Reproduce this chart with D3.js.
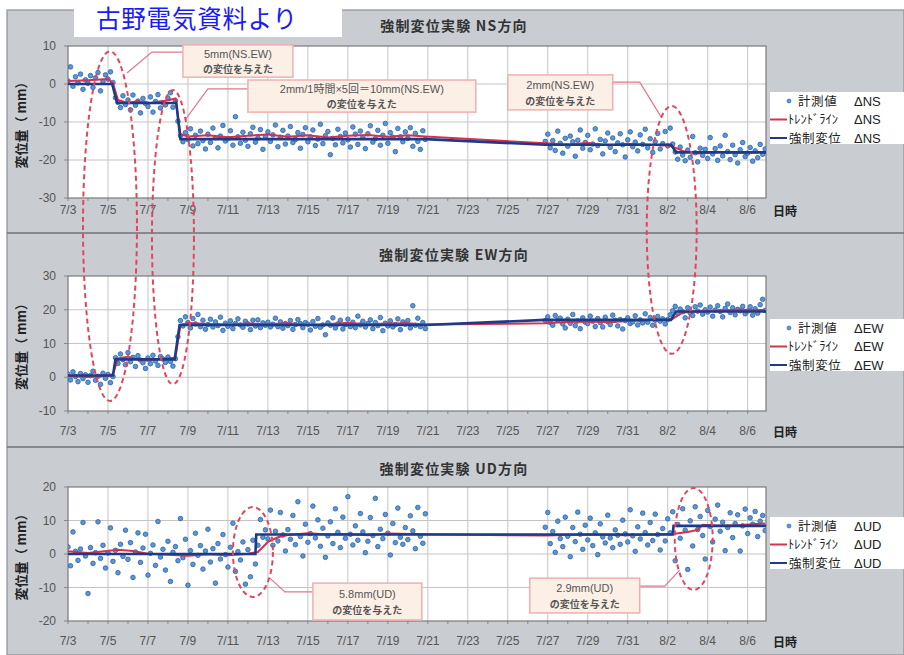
<!DOCTYPE html>
<html><head><meta charset="utf-8">
<script src="https://cdn.jsdelivr.net/npm/d3@7"></script>
<style>
body{margin:0;background:#fff;}
svg{display:block;}
</style></head><body>
<svg id="c" width="904" height="655"></svg>
<script>
// ---------------- DATA ----------------
const xTickLabels = ["7/3","7/5","7/7","7/9","7/11","7/13","7/15","7/17","7/19","7/21","7/23","7/25","7/27","7/29","7/31","8/2","8/4","8/6"];
const nsYTicks = [-30,-20,-10,0,10];
const ewYTicks = [-10,0,10,20,30];
const udYTicks = [-20,-10,0,10,20];

const measStartA = "7/3 0";   // first block of measurements
const measStartB = "7/26 21"; // second block after data gap
const measStepHours = 3;

// NS measured values
const nsMeasA = [
 0.8, 4.5, -0.6, 1.9, 0.3, 2.6, -1.4, 1.1,
 0.2, 2.2, -0.9, 1.6, 3.0, -1.8, 0.7, 2.4,
 1.3, 3.2, 0.4, -3.6, -4.8, -6.2, -3.1, -5.4,
 -4.2, -6.8, -2.9, -5.6, -4.5, -7.6, -3.8, -5.1,
 -5.9, -3.4, -7.4, -4.6, -2.8, -6.3, -4.9, -5.5,
 -3.7, -2.3, -6.1, -4.4, -9.8, -13.6, -15.2, -12.8,
 -14.6, -11.8, -16.3, -13.5, -15.7, -12.4, -14.9, -17.1,
 -13.2, -15.4, -11.6, -14.1, -16.8, -13.7, -10.9, -15.0,
 -14.4, -12.3, -16.1, -8.6, -13.9, -15.6, -12.7, -14.8,
 -16.4, -13.1, -11.4, -15.3, -14.2, -12.0, -17.2, -13.8,
 -12.6, -15.1, -13.4, -10.8, -16.5, -14.0, -12.2, -15.8,
 -13.7, -11.2, -15.4, -14.6, -12.8, -16.9, -13.3, -11.5,
 -15.2, -13.9, -12.1, -16.2, -14.5, -10.6, -15.7, -13.6,
 -12.5, -18.6, -14.3, -16.0, -11.9, -13.8, -15.5, -12.9,
 -14.7, -16.6, -11.3, -13.2, -15.9, -12.4, -14.1, -17.0,
 -13.1, -11.0, -15.3, -14.4, -12.2, -16.1, -13.5, -10.4,
 -15.6, -12.8, -14.0, -17.8, -11.7, -13.9, -15.2, -12.6,
 -14.3, -11.5, -16.4, -13.0, -15.1, -17.2, -12.3, -14.6
];
const nsMeasB = [
 -15.1,
 -13.2, -16.8, -14.9, -17.5, -12.4, -15.6, -18.2, -14.3,
 -16.4, -13.7, -15.2, -19.0, -14.8, -12.1, -16.9, -15.4,
 -13.5, -17.3, -15.8, -11.8, -16.2, -14.6, -18.4, -15.0,
 -12.9, -16.7, -14.2, -17.8, -15.5, -13.1, -16.0, -19.2,
 -14.7, -12.6, -16.5, -15.3, -17.6, -13.4, -15.9, -11.9,
 -16.8, -14.4, -18.0, -15.2, -13.0, -17.1, -15.7, -12.5,
 -16.3, -11.6, -15.8, -17.9, -19.8, -16.6, -18.7, -20.2,
 -17.4, -19.3, -13.8, -18.1, -20.5, -16.9, -18.8, -17.2,
 -19.6, -14.1, -18.4, -17.0, -20.1, -16.3, -18.9, -13.5,
 -17.8, -19.9, -16.1, -18.6, -20.8, -17.3, -15.4, -19.1,
 -18.2, -16.7, -20.3, -17.6, -19.4, -15.9, -18.5, -17.1
];
const nsTrendTimes = ["7/3 0","7/4 0","7/5 0","7/5 6","7/5 12","7/6 0","7/6 12","7/7 0","7/7 12","7/8 0","7/8 9","7/8 15","7/9 0","7/10 0","7/11 0","7/12 0","7/13 0","7/14 0","7/15 0","7/16 0","7/17 0","7/18 0","7/19 0","7/20 0","7/20 21","7/26 21","7/28 0","7/29 0","7/30 0","7/31 0","8/1 0","8/2 0","8/2 6","8/2 18","8/3 12","8/4 12","8/5 12","8/6 21"];
const nsTrendVals = [0.8,1.0,1.3,0.2,-4.2,-5.0,-4.5,-5.1,-4.7,-4.3,-3.8,-13.2,-13.8,-13.5,-14.0,-13.6,-13.3,-13.9,-13.5,-14.1,-13.6,-13.4,-13.9,-13.5,-13.8,-15.6,-15.9,-15.5,-16.1,-15.7,-16.0,-16.2,-16.5,-17.6,-18.3,-17.8,-18.1,-17.9];
const nsForcedTimes = ["7/3 0","7/5 5","7/5 11","7/8 10","7/8 15","7/20 21","7/26 21","8/2 4","8/2 10","8/6 23"];
const nsForcedVals = [0,0,-5,-5,-14.5,-14.5,-16,-16,-18,-18];

// EW measured values
const ewMeasA = [
 0.9, -0.8, 1.6, 0.2, -1.3, 1.1, -0.4, 0.7,
 -1.5, 0.5, 1.8, -0.9, 0.3, -2.1, 1.2, -0.3,
 0.8, -1.6, 0.2, 5.8, 4.1, 6.9, 5.2, 3.7,
 7.3, 4.6, 5.9, 3.2, 6.4, 5.1, 4.3, 2.6,
 5.7, 4.0, 6.5, 4.8, 3.5, 6.1, 5.4, 4.4,
 6.0, 4.7, 3.3, 5.5, 12.0, 16.8, 15.2, 17.9,
 16.2, 14.6, 17.4, 15.8, 18.6, 15.0, 16.9, 14.2,
 15.6, 17.2, 14.9, 16.4, 15.3, 17.8, 13.9, 16.0,
 15.1, 16.7, 14.4, 15.9, 17.3, 15.5, 14.8, 16.6,
 15.8, 14.1, 16.9, 15.2, 17.0, 14.7, 16.1, 15.4,
 16.3, 14.9, 15.7, 17.5, 15.0, 16.4, 14.5, 15.9,
 15.3, 16.8, 14.2, 15.6, 17.1, 15.9, 14.7, 16.2,
 15.7, 14.0, 16.5, 15.1, 17.4, 14.8, 15.5, 12.6,
 16.1, 15.4, 17.6, 14.6, 15.8, 16.9, 14.3, 15.6,
 17.2, 15.0, 16.3, 14.7, 18.1, 15.5, 16.6, 14.9,
 15.9, 17.0, 14.4, 16.2, 15.3, 17.7, 13.8, 16.0,
 15.2, 16.7, 14.9, 15.6, 17.3, 14.1, 16.4, 15.7,
 16.8, 14.6, 21.2, 15.4, 17.5, 15.0, 16.2, 14.4
];
const ewMeasB = [
 16.8,
 17.9, 16.2, 15.4, 18.3, 16.9, 17.5, 15.8, 14.6,
 17.2, 16.0, 18.6, 15.3, 16.7, 14.4, 17.6, 16.3,
 15.9, 18.1, 16.6, 15.0, 17.4, 16.2, 14.9, 17.8,
 16.5, 15.6, 18.4, 16.9, 15.2, 17.1, 14.3, 16.8,
 17.6, 15.9, 16.4, 18.2, 15.5, 17.0, 16.1, 18.8,
 16.3, 17.7, 15.4, 16.9, 18.0, 16.6, 17.3, 15.8,
 17.1, 18.5, 19.7, 21.0, 18.9, 20.2, 19.4, 17.6,
 20.6, 19.1, 18.3, 20.9, 19.6, 21.4, 18.7, 20.0,
 19.3, 20.8, 18.1, 19.9, 21.2, 19.5, 17.9, 20.4,
 21.7, 19.2, 20.6, 18.5, 20.1, 19.7, 21.0, 18.8,
 19.6, 20.9, 18.4, 20.3, 19.0, 21.5, 23.1, 19.8
];
const ewTrendTimes = nsTrendTimes.slice();
const ewTrendVals = [0.3,0.1,0.4,1.0,5.6,6.1,5.2,4.9,5.3,5.6,5.8,15.4,16.1,15.8,15.6,15.9,15.7,16.0,15.5,15.8,16.1,15.7,15.9,16.0,15.6,16.0,16.4,16.5,16.3,16.7,16.9,17.0,17.3,19.2,19.5,19.8,20.0,19.9];
const ewForcedTimes = ["7/3 0","7/5 6","7/5 9","7/8 8","7/8 14","7/20 21","7/26 21","8/2 4","8/2 10","8/6 23"];
const ewForcedVals = [0.5,0.5,5.3,5.3,15.5,15.5,17,17,19.5,19.5];

// UD measured values
const udMeasA = [
 2.1, -3.5, 6.6, 0.8, -1.9, 1.5, 9.4, -0.6,
 -11.8, 1.9, -2.8, 0.4, 9.6, -1.3, 2.6, -4.2,
 0.3, 7.8, -2.2, 1.1, -5.6, 2.9, -0.7, 7.1,
 -1.6, 3.4, -7.0, 0.6, 6.3, -2.5, 1.8, 5.9,
 -6.3, 0.2, 2.7, -3.4, 9.7, -0.9, 1.4, -4.8,
 3.8, -8.2, 0.5, 2.2, -2.0, 10.6, -1.1, 4.4,
 -9.3, 1.0, -3.1, 6.2, -0.4, 2.5, -4.5, 0.9,
 7.4, -2.4, 1.6, -8.7, 3.1, -1.5, 5.8, -0.2,
 -3.9, 2.0, 9.2, -5.2, 0.7, -1.8, 3.6, -9.0,
 1.3, -6.8, 4.1, -3.0, 2.6, 10.3, 5.0, 7.2,
 4.5, 13.1, 2.6, 6.8, 3.9, 12.4, 5.7, 0.9,
 7.3, 4.4, 11.5, 2.8, 15.6, 5.2, -0.6, 8.9,
 3.5, 6.1, 14.3, 4.8, 10.2, 2.3, 7.7, -1.0,
 5.4, 9.6, 3.1, 13.5, 6.5, 1.9, 11.0, 4.7,
 17.1, 5.9, 2.7, 8.4, 4.1, 12.1, 6.6, 0.4,
 3.8, 10.9, 5.5, 16.6, 2.2, 7.4, 4.6, 11.8,
 6.2, -0.3, 9.1, 3.4, 13.7, 5.0, 2.9, 7.9,
 4.3, 11.4, 6.9, 1.6, 13.9, 5.3, 3.2, 12.0
];
const udMeasB = [
 8.0,
 12.4, 3.1, 6.7, 0.5, 9.8, 4.6, 2.2, 11.0,
 5.3, -0.8, 7.9, 3.7, 12.5, 5.9, 1.4, 8.6,
 4.2, 10.7, 2.5, 6.3, -0.2, 9.0, 5.1, 3.3,
 11.6, 4.8, 1.9, 7.2, 5.6, 2.9, 10.1, 6.0,
 3.6, 13.2, 5.4, 0.8, 8.1, 4.5, 12.2, 6.4,
 2.7, 9.4, 4.0, 11.9, 5.8, 1.2, 7.6, 3.9,
 10.5, 6.3, 12.6, -2.0, 8.8, 4.7, 13.5, 7.1,
 -4.6, 9.9, 2.4, 14.1, 7.3, 11.2, 5.5, -1.5,
 13.0, 8.2, 3.6, 10.4, 14.6, 6.8, 9.5, 1.0,
 7.9, 12.3, 4.9, 9.1, 11.7, 0.9, 8.4, 13.4,
 6.1, 10.8, 8.9, 12.7, 5.2, 9.8, 11.5, 7.0
];
const udTrendTimes = ["7/3 0","7/4 0","7/5 12","7/6 6","7/7 0","7/8 0","7/9 0","7/10 0","7/11 0","7/12 0","7/12 12","7/13 0","7/13 12","7/14 0","7/15 0","7/16 0","7/17 0","7/18 0","7/19 0","7/20 21","7/26 21","7/29 0","7/31 0","8/2 6","8/3 0","8/3 12","8/3 18","8/4 12","8/5 12","8/6 21"];
const udTrendVals = [0.8,0.3,1.3,0.9,0.1,-0.2,-0.5,-0.1,-0.4,0.1,0.6,3.6,5.0,5.7,6.2,5.8,6.0,5.6,6.1,5.9,5.5,5.8,5.6,6.0,6.6,7.2,8.7,8.4,8.6,9.1];
const udForcedTimes = ["7/3 0","7/12 9","7/12 10","8/2 6","8/2 7","8/6 23"];
const udForcedVals = [0,0,5.8,5.8,8.4,8.4];

const titles = ["強制変位実験 NS方向","強制変位実験 EW方向","強制変位実験 UD方向"];
const dirLabels = ["ΔNS","ΔEW","ΔUD"];
const legendNames = ["計測値","ﾄﾚﾝﾄﾞﾗｲﾝ","強制変位"];

// Annotations (x in days from 7/3 00:00, y in the panel's value units)
const ellipses = [
 {p:0, cx:2.1, cy:-37.4, rx:1.35, ry:46},
 {p:0, cx:5.25, cy:-40.3, rx:1.05, ry:38.7},
 {p:0, cx:30.2, cy:-38.4, rx:1.25, ry:32.6},
 {p:2, cx:9.25, cy:0.6, rx:1.0, ry:13.4},
 {p:2, cx:31.3, cy:4.5, rx:0.95, ry:15.2}
];
const callouts = [
 {p:0, x0:5.75, x1:11.25, y0:10.3, y1:1.8, lines:["5mm(NS.EW)","の変位を与えた"], path:[[5.75,8.4],[4.2,8.4],[2.95,2.9]]},
 {p:0, x0:9.0, x1:20.4, y0:1.05, y1:-7.4, lines:["2mm/1時間×5回＝10mm(NS.EW)","の変位を与えた"], path:[[9.0,-1.3],[7.0,-1.3],[5.85,-9.5]]},
 {p:0, x0:22.0, x1:27.25, y0:2.4, y1:-6.8, lines:["2mm(NS.EW)","の変位を与えた"], path:[[27.25,0.5],[28.6,0.5],[29.7,-8.9]]},
 {p:2, x0:12.25, x1:17.7, y0:-8.7, y1:-19.7, lines:["5.8mm(UD)","の変位を与えた"], path:[[10.1,-7.2],[10.85,-11.3],[12.25,-11.3]]},
 {p:2, x0:23.1, x1:28.6, y0:-7.2, y1:-17.6, lines:["2.9mm(UD)","の変位を与えた"], path:[[28.6,-9.6],[29.85,-9.6],[30.6,-4.8]]}
];

// ---------------- LAYOUT ----------------
const parseT = d3.utcParse("%m/%d %H");
const parseD = d3.utcParse("%m/%d");
const t0 = parseT("7/3 0");
const x = d3.scaleUtc().domain([t0, parseT("8/6 22")]).range([68, 766]);
const dayT = d => d3.utcMinute.offset(t0, Math.round(d*1440));

const cfg = [
 {top:46, bottom:198, dom:[-30,10], ticks:nsYTicks, titleY:31, tickY:214, legTop:92,
  mA:nsMeasA, mB:nsMeasB, tT:nsTrendTimes, tV:nsTrendVals, fT:nsForcedTimes, fV:nsForcedVals},
 {top:276, bottom:411, dom:[-10,30], ticks:ewYTicks, titleY:260, tickY:435, legTop:319,
  mA:ewMeasA, mB:ewMeasB, tT:ewTrendTimes, tV:ewTrendVals, fT:ewForcedTimes, fV:ewForcedVals},
 {top:487, bottom:621, dom:[-20,20], ticks:udYTicks, titleY:474, tickY:645, legTop:517,
  mA:udMeasA, mB:udMeasB, tT:udTrendTimes, tV:udTrendVals, fT:udForcedTimes, fV:udForcedVals}
];

const svg = d3.select("#c");
const CJK = "'Noto Sans CJK JP','Noto Sans',sans-serif";
const LAT = "'Liberation Sans','Noto Sans CJK JP',sans-serif";
const NARROW = "'Liberation Sans Narrow','Liberation Sans',sans-serif";

// background
svg.append("rect").attr("x",7).attr("y",10).attr("width",897).attr("height",645)
  .attr("fill","#c9ccd1").attr("stroke","#8c9094").attr("stroke-width",1.2);
[233,447].forEach(yy => svg.append("line").attr("x1",7).attr("x2",904).attr("y1",yy).attr("y2",yy)
  .attr("stroke","#6f7377").attr("stroke-width",1.4));

const xTicks = xTickLabels.map(s => parseD(s));
const dayTicks = d3.utcDay.range(t0, parseT("8/6 22"));
const ys = [];

cfg.forEach((c, pi) => {
  const y = d3.scaleLinear().domain(c.dom).range([c.bottom, c.top]);
  ys.push(y);
  const g = svg.append("g");
  const W = 766-68, H = c.bottom-c.top;
  g.append("rect").attr("x",68).attr("y",c.top).attr("width",W).attr("height",H).attr("fill","#fff");
  // grid
  g.selectAll(".vg").data(xTicks.slice(1)).join("line")
    .attr("x1",d=>x(d)).attr("x2",d=>x(d)).attr("y1",c.top).attr("y2",c.bottom)
    .attr("stroke","#c4c4c4").attr("stroke-width",1);
  g.selectAll(".hg").data(c.ticks.slice(1,-1)).join("line")
    .attr("x1",68).attr("x2",766).attr("y1",d=>y(d)).attr("y2",d=>y(d))
    .attr("stroke","#c4c4c4").attr("stroke-width",1);
  // day ticks
  g.selectAll(".dt").data(dayTicks).join("line")
    .attr("x1",d=>x(d)).attr("x2",d=>x(d)).attr("y1",c.bottom).attr("y2",c.bottom+3)
    .attr("stroke","#888").attr("stroke-width",1);
  g.selectAll(".yt").data(c.ticks).join("line")
    .attr("x1",64).attr("x2",68).attr("y1",d=>y(d)).attr("y2",d=>y(d))
    .attr("stroke","#888").attr("stroke-width",1);
  g.append("rect").attr("x",68).attr("y",c.top).attr("width",W).attr("height",H)
    .attr("fill","none").attr("stroke","#7a7a7a").attr("stroke-width",1.2);

  // clip
  const cid = "clip"+pi;
  svg.append("clipPath").attr("id",cid).append("rect").attr("x",68).attr("y",c.top).attr("width",W).attr("height",H);
  const pg = g.append("g").attr("clip-path",`url(#${cid})`);

  const sA = parseT(measStartA), sB = parseT(measStartB);
  const pts = c.mA.map((v,i)=>({t:d3.utcHour.offset(sA,i*measStepHours), v}))
    .concat(c.mB.map((v,i)=>({t:d3.utcHour.offset(sB,i*measStepHours), v})));
  pg.selectAll("circle").data(pts).join("circle")
    .attr("cx",d=>x(d.t)).attr("cy",d=>y(d.v)).attr("r",2.3)
    .attr("fill","#5b97d3").attr("stroke","#2c5fa8").attr("stroke-width",0.8);

  const line = d3.line().x(d=>x(d[0])).y(d=>y(d[1]));
  pg.append("path").datum(d3.zip(c.tT.map(parseT), c.tV)).attr("d",line)
    .attr("fill","none").attr("stroke","#d6304f").attr("stroke-width",2);
  pg.append("path").datum(d3.zip(c.fT.map(parseT), c.fV)).attr("d",line)
    .attr("fill","none").attr("stroke","#1f3a86").attr("stroke-width",2.6);

  // y tick labels
  g.selectAll(".yl").data(c.ticks).join("text")
    .attr("x",56).attr("y",d=>y(d)).attr("dy","0.35em").attr("text-anchor","end")
    .attr("font-family",NARROW).attr("font-size",12).attr("fill","#555").text(d=>d);
  // x tick labels
  g.selectAll(".xl").data(xTicks).join("text")
    .attr("x",d=>x(d)).attr("y",c.tickY).attr("text-anchor","middle")
    .attr("font-family",NARROW).attr("font-size",12).attr("fill","#555")
    .text((d,i)=>xTickLabels[i]);
  g.append("text").attr("x",773).attr("y",c.tickY+2).attr("font-family",CJK).attr("font-weight","bold")
    .attr("font-size",12).attr("fill","#222").text("日時");
  // y axis title
  const cy = (c.top+c.bottom)/2;
  g.append("text").attr("transform",`translate(26,${cy}) rotate(-90)`).attr("text-anchor","middle")
    .attr("font-family",CJK).attr("font-weight","bold").attr("font-size",13).attr("fill","#222").text("変位量（ mm）");
  // title
  g.append("text").attr("x",454).attr("y",c.titleY).attr("text-anchor","middle")
    .attr("font-family",CJK).attr("font-weight","bold").attr("font-size",14).attr("letter-spacing",1.2)
    .attr("fill","#333").text(titles[pi]);

  // legend
  const lt = c.legTop;
  g.append("rect").attr("x",770).attr("y",lt).attr("width",134).attr("height",52).attr("fill","#fff");
  const rows = [lt+9, lt+27.5, lt+46];
  g.append("circle").attr("cx",789).attr("cy",rows[0]).attr("r",2).attr("fill","#5b97d3").attr("stroke","#2c5fa8").attr("stroke-width",0.6);
  g.append("line").attr("x1",770).attr("x2",787).attr("y1",rows[1]).attr("y2",rows[1]).attr("stroke","#d6304f").attr("stroke-width",2);
  g.append("line").attr("x1",770).attr("x2",787).attr("y1",rows[2]).attr("y2",rows[2]).attr("stroke","#1f3a86").attr("stroke-width",2);
  const nameX = [798, 788, 789];
  legendNames.forEach((n,i)=>{
    g.append("text").attr("x",nameX[i]).attr("y",rows[i]).attr("dy","0.36em")
      .attr("font-family",CJK).attr("font-size",12.5).attr("letter-spacing", i===1?0:0.6).attr("fill","#222").text(n);
    g.append("text").attr("x",854).attr("y",rows[i]).attr("dy","0.36em")
      .attr("font-family",LAT).attr("font-size",13).attr("fill","#222").text(dirLabels[pi]);
  });
});

// ---------------- ANNOTATIONS ----------------
const ag = svg.append("g");
callouts.forEach(a=>{
  const y = ys[a.p];
  ag.append("path").attr("d", d3.line().x(d=>x(dayT(d[0]))).y(d=>y(d[1]))(a.path))
    .attr("fill","none").attr("stroke","#e0788a").attr("stroke-width",1.2);
  const X0 = x(dayT(a.x0)), X1 = x(dayT(a.x1)), Y0 = y(a.y0), Y1 = y(a.y1);
  ag.append("rect").attr("x",X0).attr("y",Y0).attr("width",X1-X0).attr("height",Y1-Y0)
    .attr("fill","#fcefe5").attr("stroke","#eeb0b0").attr("stroke-width",1.5);
  const h = Y1-Y0;
  ag.append("text").attr("x",(X0+X1)/2).attr("y",Y0+h*0.29).attr("dy","0.35em").attr("text-anchor","middle")
    .attr("font-family",LAT).attr("font-size",11).attr("fill","#555").text(a.lines[0]);
  ag.append("text").attr("x",(X0+X1)/2).attr("y",Y0+h*0.75).attr("dy","0.35em").attr("text-anchor","middle")
    .attr("font-family",CJK).attr("font-size",10).attr("font-weight","bold").attr("fill","#555").text(a.lines[1]);
});
ellipses.forEach(e=>{
  const y = ys[e.p];
  ag.append("ellipse").attr("cx",x(dayT(e.cx))).attr("cy",y(e.cy))
    .attr("rx",x(dayT(e.rx))-x(t0)).attr("ry",Math.abs(y(e.cy+e.ry)-y(e.cy)))
    .attr("fill","none").attr("stroke","#e2465c").attr("stroke-width",2).attr("stroke-dasharray","5,3.5");
});

// banner
svg.append("rect").attr("x",74).attr("y",0).attr("width",268).attr("height",37).attr("fill","#fff");
svg.append("text").attr("x",96).attr("y",28).attr("font-family",CJK).attr("font-size",24.5)
  .attr("letter-spacing",0.8).attr("fill","#1a1aff").text("古野電気資料より");
</script>
</body></html>
